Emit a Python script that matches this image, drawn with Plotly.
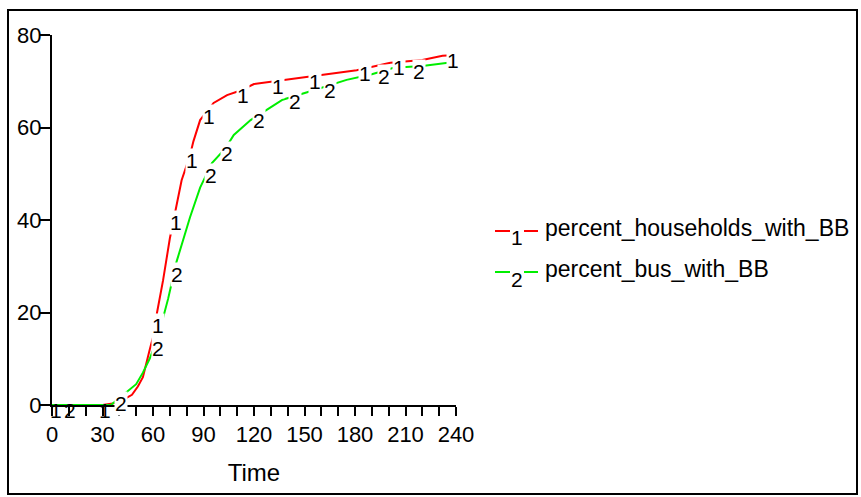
import numpy as np
import plotly.graph_objects as go

# ---- data ----
time_hh = [0, 30, 36, 40, 44, 47.5, 51, 54, 58, 61, 62.4, 64, 66, 70, 73, 77, 82, 84, 88, 92, 96, 104, 112, 120, 135, 147, 160, 181, 201, 220, 232, 240]
pct_households = [0, 0, 0.3, 0.8, 1.5, 2.2, 4, 6, 11.9, 16, 20, 23, 27, 36, 41.5, 48.6, 54, 57, 61.6, 63.5, 65.3, 67, 68, 69.4, 70.1, 70.7, 71.3, 72.4, 74, 74.6, 75.5, 75.7]

time_bus = [0, 35, 40, 46, 50, 54, 58, 63, 66, 69, 74, 82, 88, 95, 103, 108, 118, 128, 137, 155, 175, 190, 203, 220, 232, 240]
pct_bus = [0, 0, 1.5, 3.2, 4.5, 7, 10, 14.7, 19, 23, 31, 40.6, 47, 52.3, 55.5, 58.4, 61.6, 64, 66, 68, 70.3, 71.5, 72.9, 73.3, 73.9, 74.2]

label_t_hh = [1, 30, 61.8, 72.5, 82, 92, 112, 133, 155, 185, 205, 237]
label_t_bus = [9.5, 40, 61.5, 73, 93, 103, 122, 143, 164, 196, 217]

series_names = ["percent_households_with_BB", "percent_bus_with_BB"]
series_ids = ["1", "2"]
series_colors = ["#ff0000", "#00ee00"]

x_ticks = list(range(0, 241, 10))
x_tick_labels = [str(v) if v % 30 == 0 else "" for v in x_ticks]
y_ticks = [0, 20, 40, 60, 80]

FONT = "Liberation Sans, Arial, sans-serif"

# ---- layout geometry (pixels) ----
W, H = 861, 497
L, R, T, B = 52, 405, 35, 92
pw, ph = W - L - R, H - T - B

def px(x):
    return (x - L) / pw

def py(y):
    return (H - B - y) / ph

fig = go.Figure()
datasets = [(time_hh, pct_households, label_t_hh), (time_bus, pct_bus, label_t_bus)]
annotations = []
for (tt, vv, lt), name, sid, col in zip(datasets, series_names, series_ids, series_colors):
    fig.add_trace(go.Scatter(x=tt, y=vv, mode="lines", name=name,
                             line=dict(color=col, width=2), showlegend=False,
                             cliponaxis=False))
    ly = np.interp(lt, tt, vv)
    for t_, y_ in zip(lt, ly):
        annotations.append(dict(x=t_, y=float(y_), xref="x", yref="y", text=sid,
                                showarrow=False, xshift=2, yshift=-5,
                                font=dict(family=FONT, size=21, color="black"),
                                bgcolor="white" if y_ > 1 else "rgba(0,0,0,0)",
                                borderpad=0))

shapes = []
# outer frame
shapes.append(dict(type="rect", xref="paper", yref="paper",
                   x0=px(8), x1=px(857), y0=py(494), y1=py(10),
                   line=dict(color="black", width=2)))
# legend
leg_rows = [231, 272]
for row, name, sid, col in zip(leg_rows, series_names, series_ids, series_colors):
    shapes.append(dict(type="line", xref="paper", yref="paper",
                       x0=px(495), x1=px(510), y0=py(row), y1=py(row),
                       line=dict(color=col, width=2)))
    shapes.append(dict(type="line", xref="paper", yref="paper",
                       x0=px(524), x1=px(538), y0=py(row), y1=py(row),
                       line=dict(color=col, width=2)))
    annotations.append(dict(x=px(517), y=py(row + 7), xref="paper", yref="paper",
                            text=sid, showarrow=False, xanchor="center", yanchor="middle",
                            font=dict(family=FONT, size=21, color="black")))
    annotations.append(dict(x=px(543), y=py(row - 3), xref="paper", yref="paper",
                            text=name, showarrow=False, xanchor="left", yanchor="middle",
                            font=dict(family=FONT, size=23, color="black")))

fig.update_layout(
    width=W, height=H, autosize=False,
    margin=dict(l=L, r=R, t=T, b=B, pad=0),
    paper_bgcolor="white", plot_bgcolor="white",
    shapes=shapes, annotations=annotations,
    font=dict(family=FONT, size=22, color="black"),
)
fig.update_xaxes(range=[0, 240], tickvals=x_ticks, ticktext=x_tick_labels,
                 showline=True, linecolor="black", linewidth=2,
                 ticks="outside", ticklen=9, tickwidth=2, tickcolor="black",
                 showgrid=False, zeroline=False,
                 tickfont=dict(family=FONT, size=22),
                 title=dict(text="Time", font=dict(family=FONT, size=24), standoff=18))
fig.update_yaxes(range=[0, 80], tickvals=y_ticks,
                 showline=True, linecolor="black", linewidth=2,
                 ticks="outside", ticklen=10, tickwidth=2, tickcolor="black",
                 showgrid=False, zeroline=False, ticklabelstandoff=-6,
                 tickfont=dict(family=FONT, size=22))

fig.write_html("out.html")
